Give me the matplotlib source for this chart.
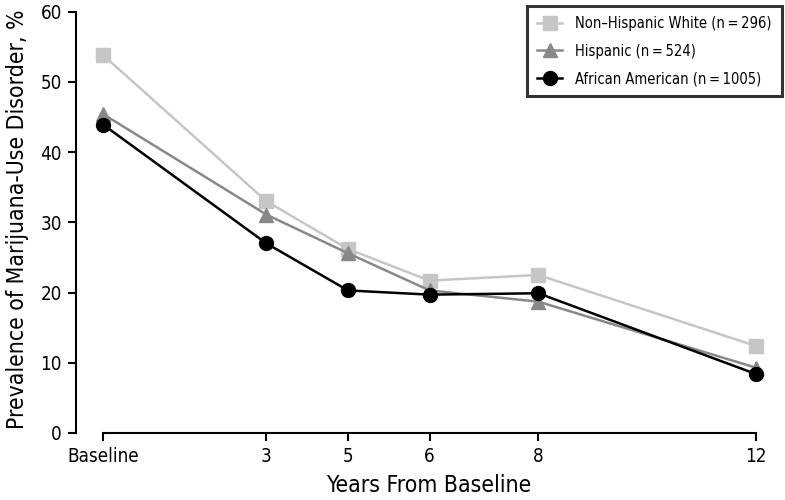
#!/usr/bin/env python3
"""Prevalence of marijuana-use disorder by ethnicity over follow-up."""

import matplotlib
matplotlib.use("Agg")
import matplotlib.pyplot as plt

# follow-up waves; wave "5" sits at 4.5 years on the original axis
YEARS = [0, 3, 4.5, 6, 8, 12]
TICK_LABELS = ["Baseline", "3", "5", "6", "8", "12"]

WHITE = [53.8, 33.0, 26.2, 21.7, 22.5, 12.4]
HISPANIC = [45.4, 31.1, 25.6, 20.3, 18.7, 9.3]
AFRICAN_AM = [43.9, 27.0, 20.3, 19.7, 19.9, 8.4]

SERIES = [
    ("Non\u2013Hispanic White (n\u2009=\u2009296)", WHITE, "#c6c6c6", "s"),
    ("Hispanic (n\u2009=\u2009524)", HISPANIC, "#888888", "^"),
    ("African American (n\u2009=\u20091005)", AFRICAN_AM, "#000000", "o"),
]

plt.rcParams["font.family"] = ["DejaVu Sans"]
plt.rcParams["font.stretch"] = "condensed"

fig = plt.figure(figsize=(7.85, 5.0), dpi=100)
ax = fig.add_axes([76 / 785, 67 / 500, 706 / 785, 427 / 500])

for label, vals, color, marker in SERIES:
    ax.plot(YEARS, vals, color=color, marker=marker, markersize=10,
            linewidth=1.8, label=label)

ax.set_xlim(-0.5, 12.48)
ax.set_ylim(0, 60.8)
ax.spines["top"].set_visible(False)
ax.spines["right"].set_visible(False)
ax.spines["left"].set_bounds(0, 60)
ax.spines["bottom"].set_bounds(0, 12)
ax.spines["left"].set_linewidth(1.5)
ax.spines["bottom"].set_linewidth(1.5)

ax.set_xticks(YEARS)
ax.set_xticklabels(TICK_LABELS)
ax.set_yticks(range(0, 61, 10))
ax.tick_params(axis="both", length=6, width=1.5, labelsize=13.5, pad=4)

ax.set_xlabel("Years From Baseline", fontsize=16.5, labelpad=6)
ax.set_ylabel("Prevalence of Marijuana-Use Disorder, %", fontsize=16.5, labelpad=8)

leg = ax.legend(loc="upper right", fontsize=10.5, frameon=True, fancybox=False,
                handlelength=1.7, borderpad=0.7, labelspacing=0.85,
                borderaxespad=0.0, handletextpad=0.9)
leg.get_frame().set_edgecolor("black")
leg.get_frame().set_linewidth(2.2)

fig.savefig("out.png", dpi=100)
